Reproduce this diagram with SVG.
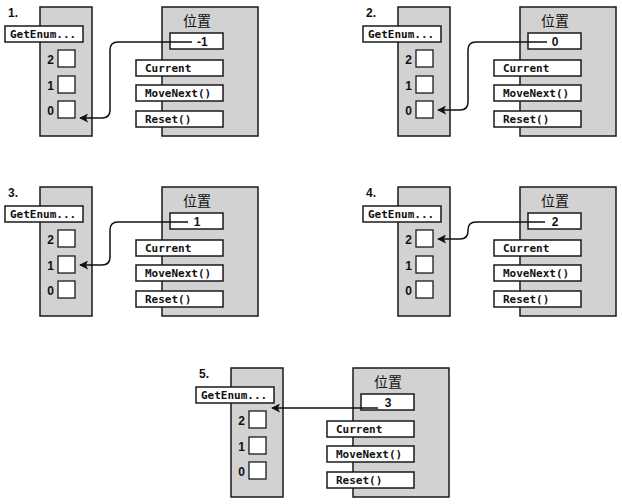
<svg xmlns="http://www.w3.org/2000/svg" width="622" height="504" viewBox="0 0 622 504">
<defs>
<style>
.bg{fill:#ffffff}
.panel{fill:#d2d2d2;stroke:#1a1a1a;stroke-width:1.5}
.box{fill:#ffffff;stroke:#1a1a1a;stroke-width:1.5}
.cell{fill:#ffffff;stroke:#1a1a1a;stroke-width:1.3}
.num{font-family:"Liberation Sans",Arial,sans-serif;font-size:12px;font-weight:bold;fill:#111}
.idx{font-family:"Liberation Sans",Arial,sans-serif;font-size:12px;font-weight:bold;fill:#111;text-anchor:end}
.mono{font-family:"DejaVu Sans Mono","Liberation Mono",monospace;font-size:11px;font-weight:bold;fill:#111}
.val{font-family:"Liberation Sans",Arial,sans-serif;font-size:12px;font-weight:bold;fill:#111}
.cjk{font-family:"Noto Sans CJK SC","Noto Sans CJK JP",sans-serif;font-size:14px;fill:#111;text-anchor:middle}
.conn{fill:none;stroke:#111;stroke-width:1.5;marker-end:url(#arr)}
</style>
<marker id="arr" viewBox="0 0 10 10" refX="9" refY="5" markerWidth="6" markerHeight="6" markerUnits="strokeWidth" orient="auto">
<path d="M0,0 L10,5 L0,10 L2.5,5 Z" fill="#111"/>
</marker>
</defs>
<rect class="bg" x="0" y="0" width="622" height="504"/>

<!-- Panel 1 -->
<g id="panel1" transform="translate(0,0)">
<text class="num" x="8" y="17">1.</text>
<g id="panel1-array">
<rect class="panel" x="40" y="7" width="52" height="129"/>
<rect class="box" x="5" y="26" width="78" height="16"/>
<text class="mono" x="10" y="38">GetEnum...</text>
<rect class="cell" x="58" y="50" width="17" height="17"/><text class="idx" x="54" y="64">2</text>
<rect class="cell" x="58" y="76" width="17" height="17"/><text class="idx" x="54" y="90">1</text>
<rect class="cell" x="58" y="101" width="17" height="17"/><text class="idx" x="54" y="115">0</text>
</g>
<g id="panel1-enumerator">
<rect class="panel" x="162" y="7" width="96" height="129"/>
<text class="cjk" x="197" y="26">位置</text>
<rect class="box" x="170" y="33" width="53" height="16"/>
<text class="val" x="197" y="46">-1</text>
<rect class="box" x="136" y="60" width="87" height="16"/><text class="mono" x="145" y="72">Current</text>
<rect class="box" x="136" y="85" width="87" height="16"/><text class="mono" x="145" y="97">MoveNext()</text>
<rect class="box" x="136" y="111" width="87" height="16"/><text class="mono" x="145" y="123">Reset()</text>
</g>
</g>

<!-- Panel 2 -->
<g id="panel2" transform="translate(358,0)">
<text class="num" x="8" y="17">2.</text>
<g id="panel2-array">
<rect class="panel" x="40" y="7" width="52" height="129"/>
<rect class="box" x="5" y="26" width="78" height="16"/>
<text class="mono" x="10" y="38">GetEnum...</text>
<rect class="cell" x="58" y="50" width="17" height="17"/><text class="idx" x="54" y="64">2</text>
<rect class="cell" x="58" y="76" width="17" height="17"/><text class="idx" x="54" y="90">1</text>
<rect class="cell" x="58" y="101" width="17" height="17"/><text class="idx" x="54" y="115">0</text>
</g>
<g id="panel2-enumerator">
<rect class="panel" x="162" y="7" width="96" height="129"/>
<text class="cjk" x="197" y="26">位置</text>
<rect class="box" x="170" y="33" width="53" height="16"/>
<text class="val" x="197" y="46" text-anchor="middle">0</text>
<rect class="box" x="136" y="60" width="87" height="16"/><text class="mono" x="145" y="72">Current</text>
<rect class="box" x="136" y="85" width="87" height="16"/><text class="mono" x="145" y="97">MoveNext()</text>
<rect class="box" x="136" y="111" width="87" height="16"/><text class="mono" x="145" y="123">Reset()</text>
</g>
</g>

<!-- Panel 3 -->
<g id="panel3" transform="translate(0,180)">
<text class="num" x="8" y="17">3.</text>
<g id="panel3-array">
<rect class="panel" x="40" y="7" width="52" height="129"/>
<rect class="box" x="5" y="26" width="78" height="16"/>
<text class="mono" x="10" y="38">GetEnum...</text>
<rect class="cell" x="58" y="50" width="17" height="17"/><text class="idx" x="54" y="64">2</text>
<rect class="cell" x="58" y="76" width="17" height="17"/><text class="idx" x="54" y="90">1</text>
<rect class="cell" x="58" y="101" width="17" height="17"/><text class="idx" x="54" y="115">0</text>
</g>
<g id="panel3-enumerator">
<rect class="panel" x="162" y="7" width="96" height="129"/>
<text class="cjk" x="197" y="26">位置</text>
<rect class="box" x="170" y="33" width="53" height="16"/>
<text class="val" x="197" y="46" text-anchor="middle">1</text>
<rect class="box" x="136" y="60" width="87" height="16"/><text class="mono" x="145" y="72">Current</text>
<rect class="box" x="136" y="85" width="87" height="16"/><text class="mono" x="145" y="97">MoveNext()</text>
<rect class="box" x="136" y="111" width="87" height="16"/><text class="mono" x="145" y="123">Reset()</text>
</g>
</g>

<!-- Panel 4 -->
<g id="panel4" transform="translate(358,180)">
<text class="num" x="8" y="17">4.</text>
<g id="panel4-array">
<rect class="panel" x="40" y="7" width="52" height="129"/>
<rect class="box" x="5" y="26" width="78" height="16"/>
<text class="mono" x="10" y="38">GetEnum...</text>
<rect class="cell" x="58" y="50" width="17" height="17"/><text class="idx" x="54" y="64">2</text>
<rect class="cell" x="58" y="76" width="17" height="17"/><text class="idx" x="54" y="90">1</text>
<rect class="cell" x="58" y="101" width="17" height="17"/><text class="idx" x="54" y="115">0</text>
</g>
<g id="panel4-enumerator">
<rect class="panel" x="162" y="7" width="96" height="129"/>
<text class="cjk" x="197" y="26">位置</text>
<rect class="box" x="170" y="33" width="53" height="16"/>
<text class="val" x="197" y="46" text-anchor="middle">2</text>
<rect class="box" x="136" y="60" width="87" height="16"/><text class="mono" x="145" y="72">Current</text>
<rect class="box" x="136" y="85" width="87" height="16"/><text class="mono" x="145" y="97">MoveNext()</text>
<rect class="box" x="136" y="111" width="87" height="16"/><text class="mono" x="145" y="123">Reset()</text>
</g>
</g>

<!-- Panel 5 -->
<g id="panel5" transform="translate(191,361)">
<text class="num" x="8" y="17">5.</text>
<g id="panel5-array">
<rect class="panel" x="40" y="7" width="52" height="129"/>
<rect class="box" x="5" y="26" width="78" height="16"/>
<text class="mono" x="10" y="38">GetEnum...</text>
<rect class="cell" x="58" y="50" width="17" height="17"/><text class="idx" x="54" y="64">2</text>
<rect class="cell" x="58" y="76" width="17" height="17"/><text class="idx" x="54" y="90">1</text>
<rect class="cell" x="58" y="101" width="17" height="17"/><text class="idx" x="54" y="115">0</text>
</g>
<g id="panel5-enumerator">
<rect class="panel" x="162" y="7" width="96" height="129"/>
<text class="cjk" x="197" y="26">位置</text>
<rect class="box" x="170" y="33" width="53" height="16"/>
<text class="val" x="197" y="46" text-anchor="middle">3</text>
<rect class="box" x="136" y="60" width="87" height="16"/><text class="mono" x="145" y="72">Current</text>
<rect class="box" x="136" y="85" width="87" height="16"/><text class="mono" x="145" y="97">MoveNext()</text>
<rect class="box" x="136" y="111" width="87" height="16"/><text class="mono" x="145" y="123">Reset()</text>
</g>
</g>

<g id="connectors">
<path class="conn" d="M192,42 H118 Q110,42 110,50 V110 Q110,118 102,118 H80"/>
<path class="conn" d="M547,42 H476 Q468,42 468,50 V102 Q468,110 460,110 H438"/>
<path class="conn" d="M188,222 H118 Q110,222 110,230 V257 Q110,265 102,265 H80"/>
<path class="conn" d="M545,222 H476 Q468,222 468,230 V231 Q468,239 460,239 H438"/>
<path class="conn" d="M378,408 H272"/>
</g>
</svg>
